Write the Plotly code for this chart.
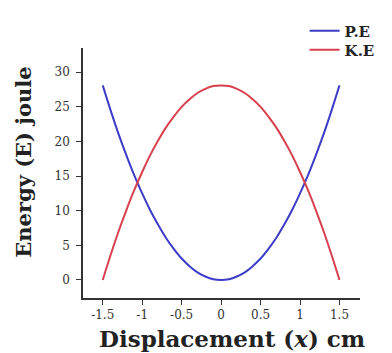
import plotly.graph_objects as go

x_cm = [-1.5, -1.4, -1.3, -1.2, -1.1, -1.0, -0.9, -0.8, -0.7, -0.6, -0.5, -0.4, -0.3, -0.2, -0.1, 0.0,
        0.1, 0.2, 0.3, 0.4, 0.5, 0.6, 0.7, 0.8, 0.9, 1.0, 1.1, 1.2, 1.3, 1.4, 1.5]
pe_joule = [28.1, 24.5, 21.1, 18.0, 15.1, 12.5, 10.1, 8.0, 6.1, 4.5, 3.1, 2.0, 1.1, 0.5, 0.1, 0.0,
            0.1, 0.5, 1.1, 2.0, 3.1, 4.5, 6.1, 8.0, 10.1, 12.5, 15.1, 18.0, 21.1, 24.5, 28.1]
ke_joule = [0.0, 3.6, 7.0, 10.1, 13.0, 15.6, 18.0, 20.1, 22.0, 23.6, 25.0, 26.1, 27.0, 27.6, 28.0, 28.1,
            28.0, 27.6, 27.0, 26.1, 25.0, 23.6, 22.0, 20.1, 18.0, 15.6, 13.0, 10.1, 7.0, 3.6, 0.0]
x_ticks = [-1.5, -1, -0.5, 0, 0.5, 1, 1.5]
x_tick_labels = ["-1.5", "-1", "-0.5", "0", "0.5", "1", "1.5"]
y_ticks = [0, 5, 10, 15, 20, 25, 30]

serif = "DejaVu Serif"

fig = go.Figure()
fig.add_trace(go.Scatter(x=x_cm, y=pe_joule, mode="lines", name="<b>P.E</b>", legend="legend",
                         line=dict(color="#3c3cc8", width=2, shape="spline")))
fig.add_trace(go.Scatter(x=x_cm, y=ke_joule, mode="lines", name="<b>K.E</b>", legend="legend2",
                         line=dict(color="#d8404e", width=2, shape="spline")))

legend_style = dict(xanchor="left", yanchor="middle",
                    font=dict(family=serif, size=15, color="#222222"),
                    bgcolor="rgba(0,0,0,0)", itemwidth=30)

fig.update_layout(
    width=392, height=353,
    margin=dict(l=83, r=24, t=48, b=55),
    paper_bgcolor="white", plot_bgcolor="white",
    font=dict(family=serif, color="#333333", size=12),
    showlegend=True,
    legend=dict(x=0.80, y=1.068, **legend_style),
    legend2=dict(x=0.80, y=0.992, **legend_style),
    xaxis=dict(range=[-1.75, 1.76], tickvals=x_ticks, ticktext=x_tick_labels, automargin=False,
               showgrid=False, zeroline=False, showline=True, linecolor="#333333", linewidth=1.5,
               ticks="outside", ticklen=5, tickcolor="#333333",
               tickfont=dict(family=serif, size=12, color="#333333")),
    yaxis=dict(range=[-2.6, 33.5], tickvals=y_ticks, automargin=False,
               showgrid=False, zeroline=False, showline=True, linecolor="#333333", linewidth=1.5,
               ticks="outside", ticklen=5, tickcolor="#333333", ticklabelstandoff=4,
               tickfont=dict(family=serif, size=12, color="#333333")),
    annotations=[
        dict(text="<b>Displacement (<i>x</i>) cm</b>", xref="paper", yref="paper",
             x=0.537, y=-0.16, xanchor="center", yanchor="middle", showarrow=False,
             font=dict(family=serif, size=23, color="#222222")),
        dict(text="<b>Energy (E) joule</b>", xref="paper", yref="paper", textangle=-90,
             x=-0.2175, y=0.544, xanchor="center", yanchor="middle", showarrow=False,
             font=dict(family=serif, size=21, color="#222222")),
    ],
)

fig.write_html("out.html", config={"displayModeBar": False},
               post_script="document.body.style.margin='0';document.body.style.overflow='hidden';")
